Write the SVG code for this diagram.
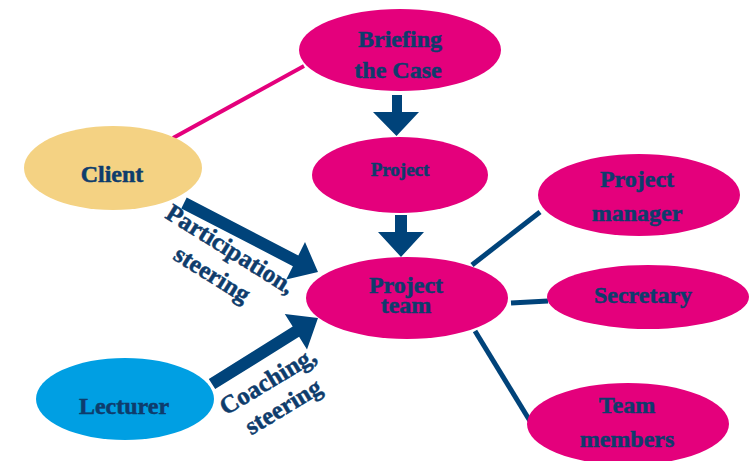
<svg xmlns="http://www.w3.org/2000/svg" width="751" height="461" viewBox="0 0 751 461">
<style>
.pink{fill:#E4007C}
.t{font-family:"Liberation Serif","Times New Roman",serif;font-weight:bold;fill:#0E3C6C;stroke:#0E3C6C;stroke-width:0.5;text-anchor:middle;font-size:24px}
.small{font-size:19px}
.lab{font-size:25px}
.arr{fill:#00437A}
.nl{stroke:#00437A;stroke-width:5;fill:none}
.pl{stroke:#E4007C;stroke-width:4;fill:none}
</style>
<rect width="751" height="461" fill="#fff"/>
<g id="connectors">
<line class="pl" x1="173" y1="138" x2="304" y2="66"/>
<line class="nl" x1="472" y1="265" x2="540" y2="212"/>
<line class="nl" x1="511" y1="303" x2="548" y2="301"/>
<line class="nl" x1="475" y1="331" x2="530" y2="421"/>
<polygon class="arr" points="392,95 402,95 402,112 419,112 396.5,136 373,112 392,112"/>
<polygon class="arr" points="395,215 407,215 407,232 424,232 401,257 378,232 395,232"/>
<polygon class="arr" points="181.3,208.4 292.9,266.2 286.2,279.6 318,272 305,242 298.3,255.4 186.7,197.6"/>
<polygon class="arr" points="215.2,389.1 299.1,336.8 307,349.5 318,318 284.8,313.9 292.7,326.6 208.8,378.9"/>
</g>
<g id="label-participation" transform="translate(226,256) rotate(32)">
<text class="t lab" x="0" y="0">Participation,</text>
<text class="t lab" x="-2" y="31">steering</text>
</g>
<g id="label-coaching" transform="translate(272,388) rotate(-31)">
<text class="t lab" x="0" y="0">Coaching,</text>
<text class="t lab" x="0" y="30">steering</text>
</g>
<g id="briefing">
<ellipse class="pink" cx="400" cy="50" rx="101" ry="41"/>
<text class="t" x="400" y="47">Briefing</text>
<text class="t" x="398" y="78">the Case</text>
</g>
<g id="project">
<ellipse class="pink" cx="400" cy="175" rx="88" ry="38"/>
<text class="t small" x="400" y="176">Project</text>
</g>
<g id="client">
<ellipse cx="113" cy="168" rx="89" ry="42" fill="#F4D283"/>
<text class="t" x="112" y="182">Client</text>
</g>
<g id="lecturer">
<ellipse cx="125" cy="399" rx="89" ry="41" fill="#009FE3"/>
<text class="t" x="124" y="414">Lecturer</text>
</g>
<g id="project-team">
<ellipse class="pink" cx="407" cy="298" rx="101" ry="41"/>
<text class="t" x="406" y="293">Project</text>
<text class="t" x="406" y="313">team</text>
</g>
<g id="project-manager">
<ellipse class="pink" cx="639" cy="195" rx="101" ry="41"/>
<text class="t" x="637" y="187">Project</text>
<text class="t" x="637" y="221">manager</text>
</g>
<g id="secretary">
<ellipse class="pink" cx="648" cy="297" rx="101" ry="32"/>
<text class="t" x="643" y="303">Secretary</text>
</g>
<g id="team-members">
<ellipse class="pink" cx="628" cy="424" rx="101" ry="41"/>
<text class="t" x="627" y="413">Team</text>
<text class="t" x="627" y="447">members</text>
</g>
</svg>
